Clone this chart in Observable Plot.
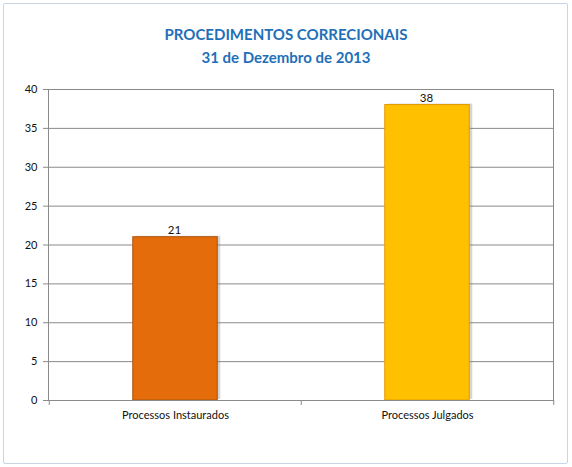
<!DOCTYPE html>
<html>
<head>
<meta charset="utf-8">
<script src="https://cdn.jsdelivr.net/npm/d3@7"></script>
<script src="https://cdn.jsdelivr.net/npm/@observablehq/plot@0.6"></script>
<style>
  body { margin: 0; background: #fff; }
  #wrap { position: relative; width: 572px; height: 467px; }
  #border { position: absolute; left: 3px; top: 3px; width: 563px; height: 459px;
            border: 1px solid #c8d5e4; border-radius: 2px; }
  #title { height: 76px; box-sizing: border-box; padding-top: 23px; text-align: center;
           font-family: Lato, sans-serif; font-weight: bold; font-size: 15px;
           line-height: 23px; color: #1f70b8; }
  #chart { position: relative; }
</style>
</head>
<body>
<div id="wrap">
  <div id="border"></div>
  <div id="title">PROCEDIMENTOS CORRECIONAIS<br>31 de Dezembro de 2013</div>
  <div id="chart"></div>
</div>
<script>
const categorias = ["Processos Instaurados", "Processos Julgados"]
const valores = [21, 38]
const cores = ["#e46c0a", "#ffc000"]
const contornos = ["#b0560c", "#e39a00"]
const yTicks = [0, 5, 10, 15, 20, 25, 30, 35, 40]

const data = categorias.map((c, i) => ({categoria: c, valor: valores[i], cor: cores[i], contorno: contornos[i]}))

const width = 572
const mLeft = 48, mRight = 19
const half = (width - mLeft - mRight) / categorias.length / 2
const inset = half - 42.5

const chart = Plot.plot({
  width: width,
  height: 391,
  marginTop: 13,
  marginBottom: 67,
  marginLeft: mLeft,
  marginRight: mRight,
  style: {fontFamily: "Lato, sans-serif", fontSize: "11px", color: "#111", background: "transparent"},
  x: {domain: categorias, padding: 0, label: null, tickSize: 0, tickPadding: 11},
  y: {domain: [0, 40], ticks: yTicks, label: null, tickSize: 5, tickPadding: 6},
  marks: [
    Plot.ruleY(yTicks, {stroke: "#8a8a8a", strokeWidth: 1}),
    Plot.frame({anchor: "right", stroke: "#8a8a8a"}),
    Plot.barY(data, {x: "categoria", y: "valor", fill: "#888", fillOpacity: 0.35,
      insetLeft: inset, insetRight: inset, dx: 3, dy: -1}),
    Plot.barY(data, {x: "categoria", y: "valor", fill: "cor", stroke: "contorno", strokeWidth: 1,
      insetLeft: inset, insetRight: inset}),
    Plot.text(data, {x: "categoria", y: "valor", text: d => String(d.valor), dy: -7, dx: -1,
      fontSize: 11.5, fill: "#111"}),
    Plot.frame({anchor: "left", stroke: "#8a8a8a"}),
    Plot.frame({anchor: "bottom", stroke: "#8a8a8a"}),
    Plot.ruleX(categorias, {x: d => d, y1: 0, y2: 0, insetBottom: -5, dx: -half, stroke: "#8a8a8a"}),
    Plot.ruleX(categorias.slice(-1), {x: d => d, y1: 0, y2: 0, insetBottom: -5, dx: half, stroke: "#8a8a8a"})
  ]
})

d3.select(chart).selectAll("[aria-label='y-axis tick'] path, [aria-label='y-axis tick'] line").attr("stroke", "#8a8a8a")
d3.select("#chart").append(() => chart)
</script>
</body>
</html>
